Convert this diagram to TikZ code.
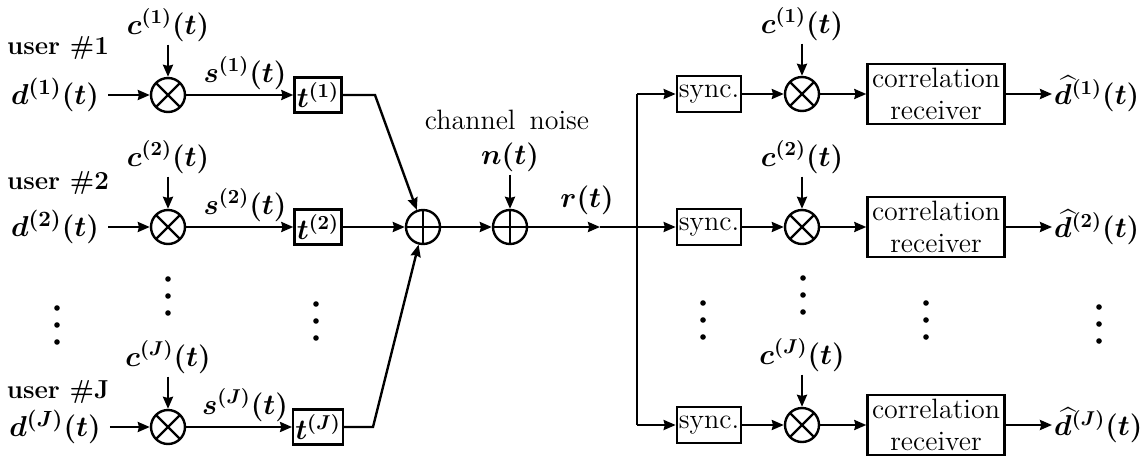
\documentclass[tikz,border=0pt]{standalone}
\usepackage{amsmath}
\usetikzlibrary{arrows.meta}

\begin{document}
\begin{tikzpicture}[x=0.5pt, y=-0.5pt, line width=1.2pt,
  >={Stealth[length=6pt,width=5pt,inset=0.6pt]},
  every node/.style={font=\fontsize{14}{16}\selectfont},
  sig/.style={font=\fontsize{14}{16}\selectfont\boldmath, inner sep=1pt},
  usr/.style={font=\fontsize{13}{15}\selectfont\bfseries, inner sep=0pt},
  box/.style={draw, rectangle, inner sep=1pt},
  mult/.style={circle, draw, minimum size=17pt, inner sep=0pt,
    path picture={\draw (path picture bounding box.north west)--(path picture bounding box.south east)
      (path picture bounding box.north east)--(path picture bounding box.south west);}},
  adder/.style={circle, draw, minimum size=17pt, inner sep=0pt,
    path picture={\draw (path picture bounding box.north)--(path picture bounding box.south)
      (path picture bounding box.east)--(path picture bounding box.west);}},
]
\useasboundingbox (0,0) rectangle (1144,460);

% transmitters
\foreach \i/\y/\u in {1/95/48, 2/227/183, J/427/392}{
  \node[usr] (u\i) at (58,\u) {user \#\i};
  \node[sig, font=\fontsize{15}{17}\selectfont\boldmath] (d\i) at (55,\y) {$d^{(\i)}(t)$};
  \node[mult] (m\i) at (168,\y) {};
  \node[sig] (c\i) at (168,\y-70) {$c^{(\i)}(t)$};
  \node[sig] (s\i) at (245,\y-22) {$s^{(\i)}(t)$};
  \node[box, minimum width=23.5pt, minimum height=17.5pt, font=\fontsize{14}{16}\selectfont\boldmath] (t\i) at (318,\y) {$t^{(\i)}$};
  \draw[->, shorten <=3pt] (d\i) -- (m\i);
  \draw[->] (c\i) -- (m\i);
  \draw[->] (m\i) -- (t\i);
}

% channel
\coordinate (b1) at (375,95);
\coordinate (bJ) at (373,427);
\node[adder] (a1) at (423,227) {};
\node[adder] (a2) at (510,227) {};
\node (cn) at (507,120) {channel\hspace{0.5em}noise};
\node[sig] (n) at (510,157) {$n(t)$};
\node[sig] (r) at (587,200) {$r(t)$};
\coordinate (rm) at (600,227);
\draw[->] (t1) -- (b1) -- (a1);
\draw[->] (t2) -- (a1);
\draw[->] (tJ) -- (bJ) -- (a1);
\draw[->] (a1) -- (a2);
\draw[->] (n) -- (a2);
\draw[->] (a2) -- (rm);

% receivers
\foreach \i/\y in {1/94, 2/227, J/425}{
  \coordinate (j\i) at (637,\y);
  \node[box, minimum width=31pt, minimum height=18pt] (y\i) at (709,\y) {sync.};
  \node[mult] (k\i) at (802,\y) {};
  \node[sig] (e\i) at (802,\y-70) {$c^{(\i)}(t)$};
  \node[box, minimum width=68.5pt, minimum height=30pt, align=center] (cr\i) at (936,\y) {correlation\\receiver};
  \node[sig, anchor=west, inner sep=0.5pt] (o\i) at (1052,\y) {$\widehat{d}^{(\i)}(t)$};
  \draw[->] (y\i) -- (k\i);
  \draw[->] (e\i) -- (k\i);
  \draw[->] (k\i) -- (cr\i);
  \draw[->] (cr\i) -- (o\i);
}
\draw (j1) -- (jJ);
\draw[->] (j1) -- (y1);
\draw[->] (rm) -- (y2);
\draw[->] (jJ) -- (yJ);

% vertical dots
\foreach \x/\y in {57/325, 168/296, 316/321, 703/320, 803/295, 926/320, 1099/324}
  \foreach \d in {-17,0,17}
    \fill (\x,\y+\d) circle (1.4pt);
\end{tikzpicture}
\end{document}
